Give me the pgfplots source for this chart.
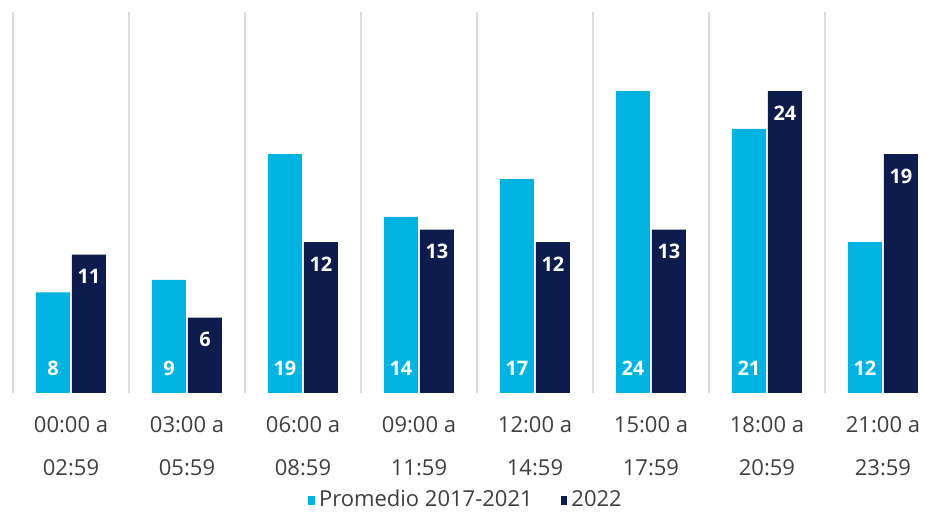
\documentclass[border=0pt]{standalone}
\usepackage{pgfplots}
\pgfplotsset{compat=1.18}
\usepackage{fontspec}
\setmainfont{Open Sans}

\definecolor{lightbar}{HTML}{00B3E1}
\definecolor{darkbar}{HTML}{0C1C4C}
\definecolor{labelgray}{HTML}{3F3F3F}
\definecolor{sepgray}{HTML}{DCDCDC}

\begin{document}
\begin{tikzpicture}
  \begin{axis}[
      scale only axis,
      width=467pt, height=190.5pt,
      xmin=-0.612, xmax=7.44,
      ymin=0, ymax=30.3,
      ybar=1pt, bar width=17pt,
      axis line style={draw=none},
      tick style={draw=none},
      ytick=\empty,
      xtick={0,1,2,3,4,5,6,7},
      xticklabels={{00:00 a\\02:59},{03:00 a\\05:59},{06:00 a\\08:59},{09:00 a\\11:59},
                   {12:00 a\\14:59},{15:00 a\\17:59},{18:00 a\\20:59},{21:00 a\\23:59}},
      xticklabel style={align=center, text=labelgray,
                        font=\fontsize{11}{21.5}\selectfont, yshift=-4pt},
      extra x ticks={-0.5,0.5,1.5,2.5,3.5,4.5,5.5,6.5},
      extra x tick labels={},
      extra x tick style={grid=major, major grid style={draw=sepgray, line width=0.9pt}},
      /pgf/number format/assume math mode=true,
      nodes near coords,
      legend columns=2,
      legend style={at={(0.5,-0.28)}, anchor=center, draw=none,
                    font=\fontsize{11}{13}\selectfont, text=labelgray,
                    /tikz/every even column/.append style={column sep=12pt}},
      legend image code/.code={\fill[#1] (0pt,-2.6pt) rectangle (3.4pt,2.0pt);},
    ]
    % Promedio 2017-2021
    \addplot[fill=lightbar, draw=none,
             visualization depends on={rawy \as \ry},
             every node near coord/.append style={font=\fontsize{10}{11}\selectfont\bfseries,
               text=white, anchor=center, shift={(axis direction cs:0,-\ry)}, yshift=12.5pt}]
      coordinates {(0,8) (1,9) (2,19) (3,14) (4,17) (5,24) (6,21) (7,12)};
    \addlegendentry{Promedio 2017-2021}
    % 2022
    \addplot[fill=darkbar, draw=none,
             every node near coord/.append style={font=\fontsize{10}{11}\selectfont\bfseries,
               text=white, anchor=center, yshift=-11pt}]
      coordinates {(0,11) (1,6) (2,12) (3,13) (4,12) (5,13) (6,24) (7,19)};
    \addlegendentry{2022}
  \end{axis}
  \path ([yshift=6pt]current axis.north);
\end{tikzpicture}
\end{document}
